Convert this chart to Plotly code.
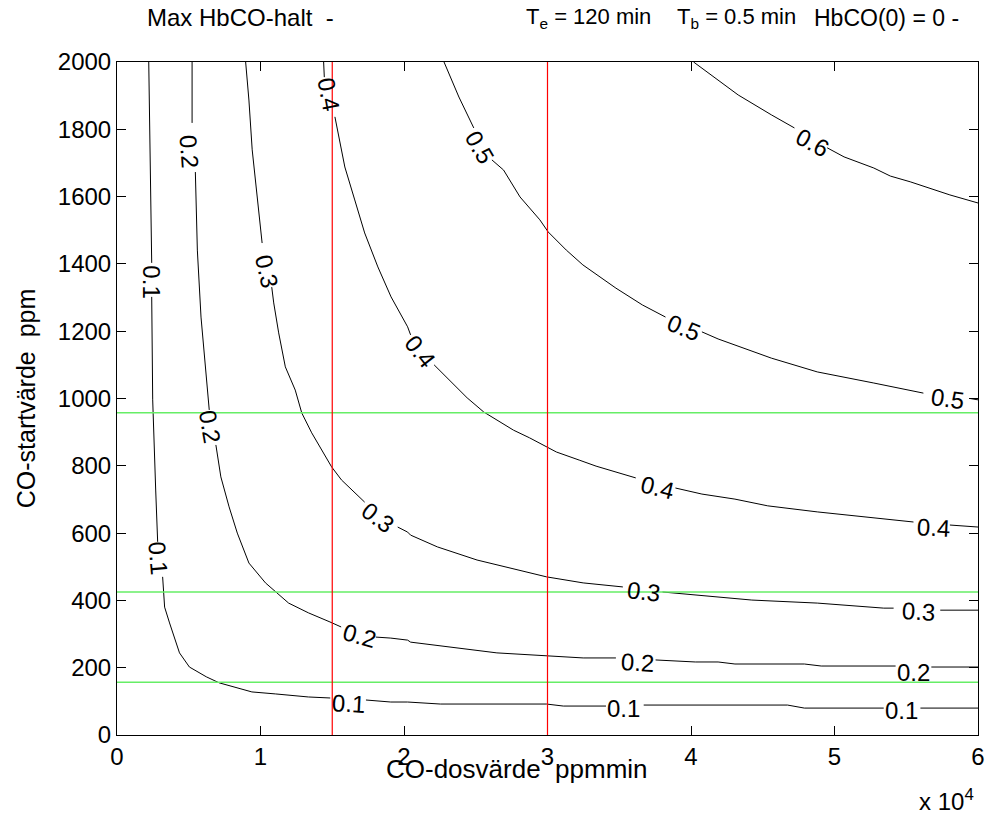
import plotly.graph_objects as go

# ---- data ----
levels = ["0.1", "0.2", "0.3", "0.4", "0.5", "0.6"]

# contour line traces; None marks a gap where a label sits
c01_x = [2212, 2350, 2419, None, 2419, 2488, 2696, 2834, None,
         3180, 3318, 3663, 4355, 5046, 6221, 7119, 9400, 11059, 13340, 14861, None,
         17349, 19077, 20252, 22533, 29928, 31103, 34075, None,
         36703, 40297, 46725, 47900, 53430, None, 55987, 60000]
c01_y = [2000, 1590, 1403, None, 1302, 996, 728, 574, None,
         470, 380, 333, 244, 202, 173, 155, 128, 122, 113, 110, None,
         104, 98, 98, 92, 92, 86, 86, None,
         89, 89, 89, 80, 80, None, 80, 80]

c02_x = [5232, 5232, 5232, None, 5460, 5599, 5854, 6200, 6290, 6428, None,
         6891, 7237, 7811, 8384, 9193, 10347, 11958, 13340, 14840, 15621, None,
         18040, 19077, 20252, 20460, 26473, 29928, 32486, 34767, None,
         37532, 40297, 41887, 43062, 47900, 49075, 54259, None, 56748, 60000]
c02_y = [2000, 1837, 1819, None, 1673, 1441, 1242, 1064, 1025, 966, None,
         862, 767, 678, 600, 511, 452, 392, 363, 336, 321, None,
         291, 288, 282, 276, 244, 235, 229, 229, None,
         223, 217, 217, 211, 211, 205, 205, None, 202, 202]

c03_x = [8965, 9193, 9421, 9767, 10112, None,
         10783, 10921, 11267, 11730, 12421, 12877, 13568, 14260, 14951, 15642, 16568, 17259, None,
         19561, 20252, 20460, 22326, 25091, 28754, 29928, 32486, 35251, None,
         38016, 40297, 44237, 48799, 53430, 54120, None, 57370, 60000]
c03_y = [2000, 1887, 1739, 1590, 1462, None,
         1331, 1284, 1195, 1094, 1025, 957, 898, 847, 797, 758, 719, 692, None,
         618, 603, 594, 559, 520, 481, 470, 452, 440, None,
         425, 416, 401, 392, 377, 377, None, 371, 371]

c04_x = [14400, 14446, None,
         15186, 15414, 15877, 16568, 17259, 18179, 19098, 20252, 20460, None,
         22098, 23017, 24399, 25554, 27627, 28754, 29928, 30620, 32210, 33385, 36150, None,
         38915, 40297, 40760, 43062, 45343, 48799, 53430, 55503, None, 58040, 60000]
c04_y = [2000, 1955, None,
         1837, 1789, 1688, 1590, 1492, 1391, 1302, 1213, 1189, None,
         1100, 1061, 1002, 960, 906, 883, 856, 841, 817, 799, 764, None,
         734, 722, 716, 701, 681, 663, 642, 633, None, 624, 618]

c05_x = [22789, 23826, 24862, None,
         26127, 26937, 28084, 29466, 30047, 31311, 32466, 34767, 36613, 38223, None,
         40760, 41887, 45598, 48799, 52739, 56195, None, 59443, 60000]
c05_y = [2000, 1896, 1804, None,
         1709, 1679, 1599, 1531, 1495, 1441, 1397, 1328, 1278, 1242, None,
         1198, 1177, 1120, 1079, 1046, 1016, None, 1000, 996]

c06_x = [40179, 41907, 43290, 45598, 47209, None,
         49490, 50665, 52739, 53893, 55275, 56886, 58040, 60000]
c06_y = [2000, 1947, 1902, 1843, 1804, None,
         1745, 1718, 1685, 1661, 1644, 1620, 1605, 1581]

# contour labels: text, x, y, angle
label_text = ["0.1", "0.1", "0.1", "0.1", "0.1",
              "0.2", "0.2", "0.2", "0.2", "0.2",
              "0.3", "0.3", "0.3", "0.3",
              "0.4", "0.4", "0.4", "0.4",
              "0.5", "0.5", "0.5",
              "0.6"]
label_x = [2419, 2903, 16105, 35320, 54674,
           5011, 6497, 16865, 36288, 55538,
           10402, 18179, 36703, 55883,
           14723, 21151, 37671, 56886,
           25229, 39468, 57853,
           48453]
label_y = [1346, 526, 95, 80, 74,
           1733, 918, 297, 214, 187,
           1379, 645, 425, 366,
           1905, 1141, 737, 618,
           1748, 1210, 1000,
           1762]
label_angle = [90, 85, 3, 0, 0,
               86, 80, 16, 3, 0,
               77, 37, 7, 3,
               79, 52, 14, 3,
               60, 22, 8,
               28]

red_x = [15000, 30000]
green_y = [958, 425, 157]

x_ticks = [0, 10000, 20000, 30000, 40000, 50000, 60000]
x_ticktext = ["0", "1", "2", "3", "4", "5", "6"]
y_ticks = list(range(0, 2001, 200))

FONT = "Liberation Sans, Arial, Helvetica, sans-serif"
FS = 24
NB = "\u00a0"

fig = go.Figure()

contours = [(c01_x, c01_y), (c02_x, c02_y), (c03_x, c03_y),
            (c04_x, c04_y), (c05_x, c05_y), (c06_x, c06_y)]
for (cx, cy), lev in zip(contours, levels):
    fig.add_trace(go.Scatter(x=cx, y=cy, mode="lines", name=lev,
                             line=dict(color="black", width=1),
                             connectgaps=False, showlegend=False, hoverinfo="skip"))

# green horizontal marker lines
gx_pts, gy_pts = [], []
for gy in green_y:
    gx_pts += [0, 60000, None]
    gy_pts += [gy, gy, None]
fig.add_trace(go.Scatter(x=gx_pts, y=gy_pts, mode="lines", name="green",
                         line=dict(color="#66ee66", width=1.5), showlegend=False,
                         connectgaps=False, hoverinfo="skip"))

# red vertical marker lines as shapes, drawn above the traces
shapes = []
for rx in red_x:
    shapes.append(dict(type="line", xref="x", yref="y", x0=rx, x1=rx, y0=0, y1=2000,
                       line=dict(color="#ff0000", width=1.2), layer="above"))

annotations = []
for t, lx, ly, la in zip(label_text, label_x, label_y, label_angle):
    annotations.append(dict(x=lx, y=ly, xref="x", yref="y", text=t, showarrow=False,
                            textangle=la, font=dict(family=FONT, size=FS, color="black"),
                            xanchor="center", yanchor="middle"))

# title pieces
title_parts = [("Max HbCO-halt" + NB * 2 + "-", 0.033, 24),
               ("T<sub>e</sub> = 120 min", 0.4724, 22),
               ("T<sub>b</sub> = 0.5 min", 0.6486, 22),
               ("HbCO(0) = 0 -", 0.8076, 23)]
for txt, px, fs in title_parts:
    annotations.append(dict(x=px, y=1.066, xref="paper", yref="paper", text=txt,
                            showarrow=False, xanchor="left", yanchor="middle",
                            font=dict(family=FONT, size=fs, color="black")))

annotations.append(dict(x=0.464, y=-0.05, xref="paper", yref="paper",
                        text="CO-dosvärde" + NB * 2 + "ppmmin", showarrow=False,
                        xanchor="center", yanchor="middle",
                        font=dict(family=FONT, size=26, color="black")))
annotations.append(dict(x=-0.106, y=0.5, xref="paper", yref="paper",
                        text="CO-startvärde" + NB * 2 + "ppm", showarrow=False, textangle=-90,
                        xanchor="center", yanchor="middle",
                        font=dict(family=FONT, size=25, color="black")))
annotations.append(dict(x=0.963, y=-0.097, xref="paper", yref="paper",
                        text="x 10<sup>4</sup>", showarrow=False,
                        xanchor="center", yanchor="middle",
                        font=dict(family=FONT, size=FS, color="black")))

axis_common = dict(showgrid=False, zeroline=False, showline=True, linecolor="black",
                   linewidth=1, mirror="ticks", ticks="inside", ticklen=9,
                   tickcolor="black", tickwidth=1, showspikes=False,
                   tickfont=dict(family=FONT, size=FS, color="black"))

fig.update_layout(
    width=995, height=818, autosize=False,
    margin=dict(l=117, r=10, t=62, b=83),
    paper_bgcolor="white", plot_bgcolor="white",
    xaxis=dict(range=[0, 60000], tickvals=x_ticks, ticktext=x_ticktext, **axis_common),
    yaxis=dict(range=[0, 2000], tickvals=y_ticks, ticksuffix=NB, **axis_common),
    annotations=annotations,
    shapes=shapes,
    showlegend=False,
    hovermode=False,
)

fig.write_html("out.html", config={"staticPlot": True, "displayModeBar": False},
               post_script="document.body.style.margin='0px';")
